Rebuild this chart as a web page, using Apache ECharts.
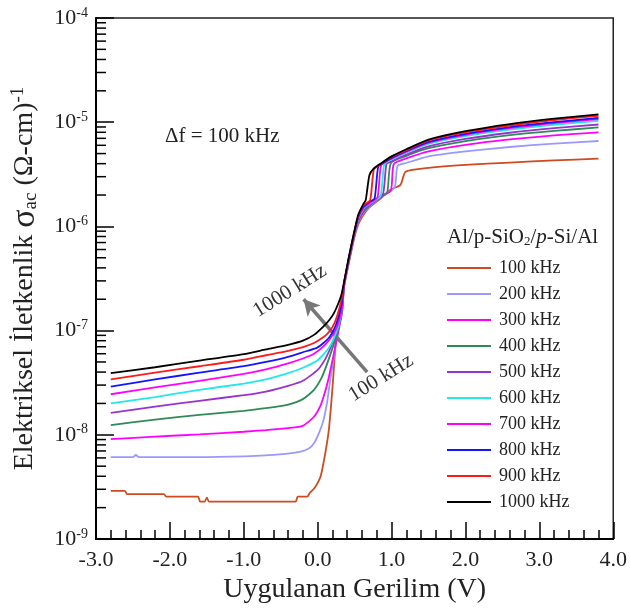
<!DOCTYPE html>
<html>
<head>
<meta charset="utf-8">
<script src="https://cdn.jsdelivr.net/npm/echarts@6/dist/echarts.min.js"></script>
<style>html,body{margin:0;padding:0;background:#fff}#c{width:630px;height:610px}</style>
</head>
<body>
<div id="c"></div>
<script>
// ---- data (x in V, y in (Ω-cm)^-1) ----
const freqLabels = ['100 kHz','200 kHz','300 kHz','400 kHz','500 kHz','600 kHz','700 kHz','800 kHz','900 kHz','1000 kHz'];
const colors = ['#d04a1f','#9999ff','#ff00ff','#2e8b57','#9932cc','#22e8e8','#ff00ff','#1414ff','#ff1a1a','#000000'];
const xTickValues = [-3,-2,-1,0,1,2,3,4];
const yDecades = [1e-9,1e-8,1e-7,1e-6,1e-5,1e-4];

const s100 = [[-2.8,2.9e-9],[-2.61,2.9e-9],[-2.58,2.7e-9],[-2.08,2.7e-9],[-2.05,2.55e-9],[-1.62,2.55e-9],[-1.59,2.28e-9],[-1.53,2.28e-9],[-1.5,2.5e-9],[-1.47,2.28e-9],[-0.3,2.28e-9],[-0.27,2.55e-9],[-0.14,2.55e-9],[-0.11,2.75e-9],[-0.04,3.1e-9],[0.04,4.0e-9],[0.1,6.5e-9],[0.15,1.1e-8],[0.2,2.8e-8],[0.24,7.0e-8],[0.28,1.25e-7],[0.32,1.9e-7],[0.36,2.7e-7],[0.42,4.4e-7],[0.49,7.5e-7],[0.55,1.05e-6],[0.62,1.29e-6],[0.70,1.52e-6],[0.85,1.85e-6],[0.98,2.24e-6],[1.12,2.5e-6],[1.19,3.35e-6],[1.5,3.65e-6],[2.0,3.9e-6],[2.6,4.1e-6],[3.2,4.3e-6],[3.8,4.47e-6]];
const s200 = [[-2.8,6.1e-9],[-2.5,6.1e-9],[-2.46,6.4e-9],[-2.42,6.1e-9],[-1.5,6.1e-9],[-0.77,6.3e-9],[-0.4,6.6e-9],[-0.23,6.9e-9],[-0.12,7.4e-9],[-0.05,8.3e-9],[0.02,1.05e-8],[0.08,1.39e-8],[0.13,2.1e-8],[0.17,3.36e-8],[0.24,7.0e-8],[0.3,1.25e-7],[0.36,2.75e-7],[0.42,4.51e-7],[0.49,7.7e-7],[0.55,1.1e-6],[0.62,1.35e-6],[0.70,1.55e-6],[0.85,1.9e-6],[1.04,2.35e-6],[1.08,3.79e-6],[1.2,4.06e-6],[1.5,4.7e-6],[2.0,5.24e-6],[2.6,5.78e-6],[3.2,6.24e-6],[3.8,6.6e-6]];
const s300 = [[-2.8,9.1e-9],[-2.2,9.6e-9],[-1.6,1.01e-8],[-1.0,1.07e-8],[-0.7,1.11e-8],[-0.4,1.16e-8],[-0.2,1.22e-8],[-0.05,1.49e-8],[0.03,1.85e-8],[0.08,2.32e-8],[0.14,3.3e-8],[0.2,5.2e-8],[0.27,9.0e-8],[0.33,1.5e-7],[0.36,2.79e-7],[0.42,4.57e-7],[0.49,7.8e-7],[0.55,1.12e-6],[0.62,1.38e-6],[0.70,1.58e-6],[0.85,1.92e-6],[0.99,2.2e-6],[1.03,3.97e-6],[1.2,4.49e-6],[1.5,5.25e-6],[2.0,6.06e-6],[2.6,6.83e-6],[3.2,7.47e-6],[3.8,8.0e-6]];
const s400 = [[-2.8,1.24e-8],[-2.2,1.4e-8],[-1.6,1.55e-8],[-1.0,1.7e-8],[-0.7,1.8e-8],[-0.4,1.95e-8],[-0.2,2.2e-8],[-0.05,2.7e-8],[0.05,3.5e-8],[0.13,4.85e-8],[0.22,7.5e-8],[0.28,1.05e-7],[0.33,1.55e-7],[0.36,2.81e-7],[0.42,4.62e-7],[0.49,7.9e-7],[0.55,1.14e-6],[0.62,1.41e-6],[0.70,1.6e-6],[0.85,1.95e-6],[0.94,2.1e-6],[0.99,4.05e-6],[1.2,4.75e-6],[1.5,5.63e-6],[2.0,6.58e-6],[2.6,7.5e-6],[3.2,8.25e-6],[3.8,8.9e-6]];
const s500 = [[-2.8,1.62e-8],[-2.2,1.86e-8],[-1.6,2.12e-8],[-1.0,2.4e-8],[-0.7,2.6e-8],[-0.4,2.95e-8],[-0.2,3.3e-8],[0.0,4.2e-8],[0.1,5.3e-8],[0.18,7.0e-8],[0.26,1.0e-7],[0.32,1.5e-7],[0.36,2.84e-7],[0.42,4.69e-7],[0.49,8.0e-7],[0.55,1.17e-6],[0.62,1.44e-6],[0.70,1.62e-6],[0.88,2.0e-6],[0.93,3.95e-6],[1.0,4.22e-6],[1.2,4.9e-6],[1.5,5.87e-6],[2.0,6.91e-6],[2.6,7.92e-6],[3.2,8.76e-6],[3.8,9.5e-6]];
const s600 = [[-2.8,2.0e-8],[-2.2,2.3e-8],[-1.6,2.7e-8],[-1.0,3.1e-8],[-0.7,3.4e-8],[-0.4,3.9e-8],[-0.2,4.4e-8],[0.0,5.2e-8],[0.15,6.8e-8],[0.25,9.5e-8],[0.31,1.35e-7],[0.34,2.0e-7],[0.36,2.88e-7],[0.42,4.75e-7],[0.49,8.13e-7],[0.55,1.19e-6],[0.62,1.47e-6],[0.70,1.65e-6],[0.85,1.95e-6],[0.90,3.92e-6],[1.0,4.39e-6],[1.2,5.11e-6],[1.5,6.2e-6],[2.0,7.36e-6],[2.6,8.49e-6],[3.2,9.45e-6],[3.8,1.03e-5]];
const s700 = [[-2.8,2.45e-8],[-2.2,2.85e-8],[-1.6,3.3e-8],[-1.0,3.85e-8],[-0.7,4.25e-8],[-0.4,4.85e-8],[-0.2,5.4e-8],[-0.05,6.0e-8],[0.1,7.3e-8],[0.2,9.0e-8],[0.28,1.18e-7],[0.33,1.65e-7],[0.36,2.9e-7],[0.42,4.81e-7],[0.49,8.24e-7],[0.55,1.22e-6],[0.62,1.5e-6],[0.70,1.68e-6],[0.81,1.9e-6],[0.86,3.88e-6],[1.0,4.47e-6],[1.2,5.21e-6],[1.5,6.35e-6],[2.0,7.57e-6],[2.6,8.76e-6],[3.2,9.79e-6],[3.8,1.07e-5]];
const s800 = [[-2.8,2.9e-8],[-2.2,3.4e-8],[-1.6,3.95e-8],[-1.0,4.55e-8],[-0.7,5.0e-8],[-0.4,5.6e-8],[-0.2,6.2e-8],[0.0,6.9e-8],[0.15,8.5e-8],[0.25,1.15e-7],[0.32,1.75e-7],[0.36,2.94e-7],[0.42,4.88e-7],[0.49,8.36e-7],[0.55,1.245e-6],[0.62,1.55e-6],[0.70,1.72e-6],[0.77,1.85e-6],[0.82,3.75e-6],[0.9,4.1e-6],[1.0,4.53e-6],[1.2,5.29e-6],[1.5,6.46e-6],[2.0,7.73e-6],[2.6,8.98e-6],[3.2,1.0e-5],[3.8,1.1e-5]];
const s900 = [[-2.8,3.4e-8],[-2.2,3.95e-8],[-1.6,4.55e-8],[-1.0,5.25e-8],[-0.7,5.8e-8],[-0.4,6.4e-8],[-0.2,6.95e-8],[-0.05,7.6e-8],[0.05,8.4e-8],[0.13,9.3e-8],[0.2,1.08e-7],[0.26,1.36e-7],[0.32,1.97e-7],[0.36,2.96e-7],[0.42,4.93e-7],[0.49,8.5e-7],[0.55,1.27e-6],[0.62,1.6e-6],[0.71,1.78e-6],[0.76,3.5e-6],[0.85,3.95e-6],[1.0,4.65e-6],[1.2,5.4e-6],[1.5,6.7e-6],[2.0,8.0e-6],[2.6,9.3e-6],[3.2,1.05e-5],[3.8,1.15e-5]];
const s1000 = [[-2.8,3.9e-8],[-2.2,4.45e-8],[-1.6,5.15e-8],[-1.0,5.95e-8],[-0.7,6.6e-8],[-0.4,7.3e-8],[-0.2,8.0e-8],[-0.05,9.1e-8],[0.08,1.1e-7],[0.16,1.27e-7],[0.22,1.47e-7],[0.28,1.83e-7],[0.32,2.2e-7],[0.36,3.0e-7],[0.42,5.0e-7],[0.49,8.6e-7],[0.55,1.3e-6],[0.62,1.65e-6],[0.65,1.78e-6],[0.70,3.1e-6],[0.76,3.6e-6],[0.85,4.0e-6],[1.0,4.7e-6],[1.2,5.5e-6],[1.5,6.8e-6],[2.0,8.2e-6],[2.6,9.6e-6],[3.2,1.08e-5],[3.8,1.19e-5]];
const seriesData = [s100,s200,s300,s400,s500,s600,s700,s800,s900,s1000];

// arrow annotation endpoints (data coords)
const arrowFrom = [0.67, 4.0e-8];
const arrowTo = [-0.19, 2.0e-7];

// minor tick values of the log axis (2..9 x 10^n)
const minorTickVals = [];
for (let d = 0; d < yDecades.length - 1; d++) for (let m = 2; m <= 9; m++) minorTickVals.push(+(m * yDecades[d]).toPrecision(3));

const FONT = "'Liberation Serif','Times New Roman',serif";
const chart = echarts.init(document.getElementById('c'), null, {renderer: 'canvas'});

const lineSeries = seriesData.map((d, i) => ({
  name: freqLabels[i], type: 'line', data: d, symbol: 'none', smooth: 0.2,
  lineStyle: {color: colors[i], width: 1.8}, itemStyle: {color: colors[i]},
  z: 2 + i, animation: false
}));
lineSeries[0].markLine = {
  silent: true, animation: false, symbol: ['none', 'arrow'], symbolSize: [13, 16],
  lineStyle: {color: '#777', width: 3.5, type: 'solid'}, label: {show: false},
  data: [[{coord: arrowFrom}, {coord: arrowTo}]]
};

const option = {
  animation: false,
  backgroundColor: '#fff',
  title: {
    text: 'Al/p-SiO{sub|2}/{i|p}-Si/Al', left: 442, top: 222,
    textStyle: {fontFamily: FONT, fontSize: 21, fontWeight: 'normal', color: '#222',
      rich: {sub: {fontFamily: FONT, fontSize: 13, verticalAlign: 'bottom', padding: [8,0,0,0], color: '#222'},
             i: {fontFamily: FONT, fontSize: 21, fontStyle: 'italic', color: '#222'}}}
  },
  legend: {
    orient: 'vertical', left: 442, top: 253, data: freqLabels,
    itemWidth: 44, itemHeight: 14, itemGap: 6, icon: 'path://M0,0L44,0L44,2L0,2Z',
    textStyle: {fontFamily: FONT, fontSize: 18, color: '#222', lineHeight: 20, padding: [0,0,0,3]}
  },
  grid: {left: 95, right: 15, top: 18, bottom: 71, show: true, borderColor: '#222', borderWidth: 1.5, containLabel: false},
  xAxis: {
    type: 'value', min: -3, max: 4, interval: 1,
    axisLine: {show: true, onZero: false, lineStyle: {color: '#000', width: 2}},
    axisTick: {show: true, inside: true, length: 17, lineStyle: {color: '#000', width: 1.5}},
    minorTick: {show: true, splitNumber: 5, length: 9, lineStyle: {color: '#000', width: 1.5}},
    splitLine: {show: false},
    axisLabel: {fontFamily: FONT, fontSize: 22, color: '#222', margin: 10, formatter: v => v.toFixed(1)},
    name: 'Uygulanan Gerilim (V)', nameLocation: 'middle', nameGap: 37,
    nameTextStyle: {fontFamily: FONT, fontSize: 28, color: '#222'}
  },
  yAxis: {
    type: 'log', logBase: 10, min: 1e-9, max: 1e-4, splitNumber: 5,
    axisLine: {show: true, onZero: false, lineStyle: {color: '#000', width: 2}},
    axisTick: {show: true, inside: true, length: 18, lineStyle: {color: '#000', width: 1.5}},
    minorTick: {show: false},
    splitLine: {show: false},
    axisLabel: {
      fontFamily: FONT, fontSize: 22, color: '#222', margin: 8,
      formatter: v => '10{sup|' + Math.round(Math.log10(v)) + '}',
      rich: {sup: {fontFamily: FONT, fontSize: 14, color: '#222', verticalAlign: 'top', padding: [0,0,10,0]}}
    },
    name: 'Elektriksel İletkenlik {s|σ}{sub|ac} (Ω-cm){sup|-1}', nameLocation: 'middle', nameGap: 54, nameRotate: 90,
    nameTextStyle: {fontFamily: FONT, fontSize: 28, color: '#222',
      rich: {s: {fontFamily: FONT, fontSize: 34, color: '#222'},
             sub: {fontFamily: FONT, fontSize: 19, color: '#222', padding: [12,0,0,0]},
             sup: {fontFamily: FONT, fontSize: 19, color: '#222', padding: [0,0,14,0]}}}
  },
  graphic: [
    {type: 'text', x: 165, y: 136, silent: true, style: {text: 'Δf = 100 kHz', font: '21px ' + FONT, fill: '#222', textAlign: 'left', textVerticalAlign: 'middle'}},
    {type: 'text', x: 290, y: 291, rotation: 0.56, silent: true, style: {text: '1000 kHz', font: '21px ' + FONT, fill: '#333', textAlign: 'center', textVerticalAlign: 'middle'}},
    {type: 'text', x: 381, y: 378, rotation: 0.56, silent: true, style: {text: '100 kHz', font: '21px ' + FONT, fill: '#333', textAlign: 'center', textVerticalAlign: 'middle'}}
  ],
  series: lineSeries.concat([{
    name: 'minorTicks', type: 'custom', silent: true, clip: false, z: 20,
    data: minorTickVals.map(v => [-3, v]),
    renderItem: (params, api) => {
      const p = api.coord([api.value(0), api.value(1)]);
      return {type: 'line', shape: {x1: p[0], y1: p[1], x2: p[0] + 10, y2: p[1]}, style: {stroke: '#000', lineWidth: 1.5}};
    }
  }])
};
chart.setOption(option);
</script>
</body>
</html>
